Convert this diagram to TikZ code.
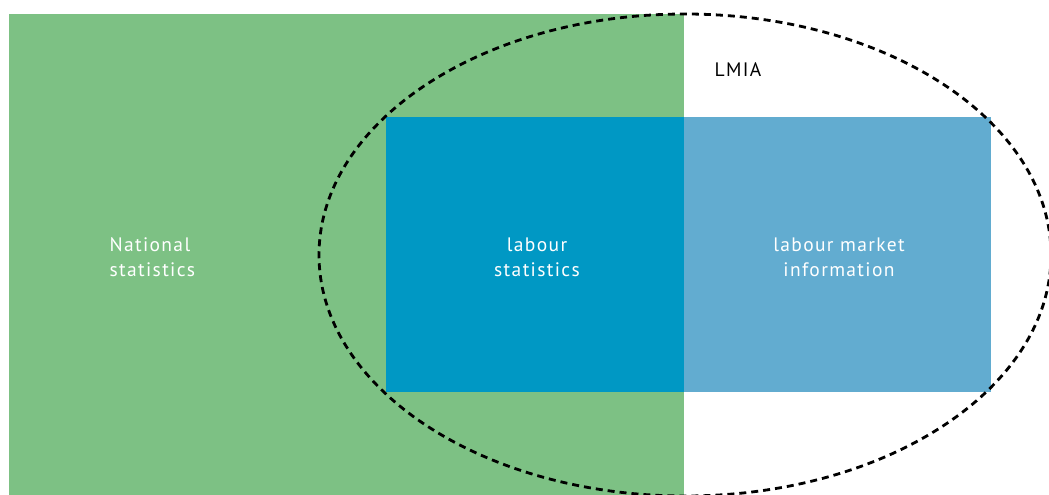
\documentclass[tikz,border=0pt]{standalone}
\usepackage{fontspec}
\setmainfont{PT Sans}
\newfontfamily\dinfont[LetterSpace=7]{PT Sans}
\definecolor{natgreen}{HTML}{7DC184}
\definecolor{labblue}{HTML}{0098C4}
\definecolor{lmiblue}{HTML}{62ACD0}
\tikzset{
  area/.style={draw=none, inner sep=0pt},
  lbl/.style={text=white, font=\dinfont\fontsize{19.5}{25}\selectfont, align=center},
  dashring/.style={draw=black, line width=2.8pt, dash pattern=on 7pt off 5pt}
}
\begin{document}
\begin{tikzpicture}[x=1pt, y=-1pt]
\useasboundingbox (0,0) rectangle (1049,495);
\fill[white] (0,0) rectangle (1049,495);
\fill[natgreen] (9,14) rectangle (684,495);
\fill[labblue] (386,117) rectangle (684,392);
\fill[lmiblue] (684,117) rectangle (991,392);
\node[area, minimum width=675pt, minimum height=481pt] (nat) at (346.5,254.5) {};
\node[area, minimum width=298pt, minimum height=275pt] (lab) at (535,254.5) {};
\node[area, minimum width=307pt, minimum height=275pt] (lmi) at (837.5,254.5) {};
\node[lbl, align=left, anchor=west] (natt) at (106,257) {National\\statistics};
\node[lbl] (labt) at (537,257) {labour\\statistics};
\node[lbl] (lmit) at (839,257) {labour market\\information};
\node[font=\dinfont\fontsize{19.5}{25}\selectfont, text=black] (lmia) at (738,70) {LMIA};
\draw[dashring] (685,255) ellipse [x radius=366pt, y radius=241pt];
\end{tikzpicture}
\end{document}
